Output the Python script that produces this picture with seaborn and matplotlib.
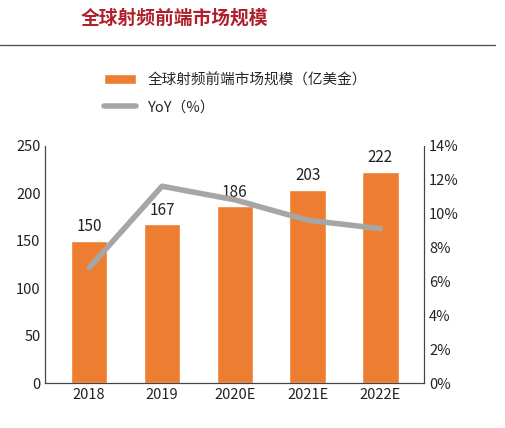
import matplotlib
matplotlib.use("Agg")
import matplotlib.pyplot as plt
import seaborn as sns
import pandas as pd
from matplotlib.ticker import FuncFormatter

years = ["2018", "2019", "2020E", "2021E", "2022E"]
market = [150, 167, 186, 203, 222]
yoy = [6.8, 11.6, 10.8, 9.6, 9.1]

sns.set_style("white")
plt.rcParams['font.family'] = ['Noto Sans CJK SC', 'DejaVu Sans']

fig = plt.figure(figsize=(5.05, 4.28), dpi=100)
ax = fig.add_axes([0.09, 0.105, 0.75, 0.555])
df = pd.DataFrame({"year": years, "v": market})
sns.barplot(data=df, x="year", y="v", color="#ED7D31", width=0.5, ax=ax, saturation=1,
            label="全球射频前端市场规模（亿美金）")
for i, v in enumerate(market):
    ax.text(i, v + 6, str(v), ha="center", va="bottom", fontsize=11, color="#222222")
ax.set_ylim(0, 250)
ax.set_yticks(range(0, 251, 50))
ax.set_xlabel(""); ax.set_ylabel("")
ax.tick_params(labelsize=10.5, colors="#222222", length=0)
ax2 = ax.twinx()
sns.lineplot(x=list(range(5)), y=yoy, color="#A6A6A6", linewidth=4, ax=ax2, label="YoY（%）")
ax2.set_ylim(0, 14)
ax2.set_yticks(range(0, 15, 2))
ax2.yaxis.set_major_formatter(FuncFormatter(lambda v, p: f"{int(v)}%"))
ax2.tick_params(labelsize=10.5, colors="#222222", length=0)
for a in (ax, ax2):
    a.spines["top"].set_visible(False)
    for s in ("left", "right", "bottom"):
        a.spines[s].set_color("#444444")
ax.set_xlim(-0.6, 4.6)
ax2.get_legend().remove()
ax.get_legend().remove() if ax.get_legend() else None
h1, l1 = ax.get_legend_handles_labels()
h2, l2 = ax2.get_legend_handles_labels()
fig.legend(h1 + h2, l1 + l2, loc="upper left", bbox_to_anchor=(0.18, 0.86), frameon=False,
           fontsize=10.5, handlelength=2.2, labelspacing=0.9)
fig.text(0.16, 0.945, "全球射频前端市场规模", fontsize=13.5, fontweight="bold", color="#B0202A",
         family=['Noto Sans CJK SC', 'DejaVu Sans'])
fig.add_artist(plt.Line2D([0.0, 0.98], [0.895, 0.895], color="#555555", lw=1))
fig.savefig("out.png", dpi=100)
